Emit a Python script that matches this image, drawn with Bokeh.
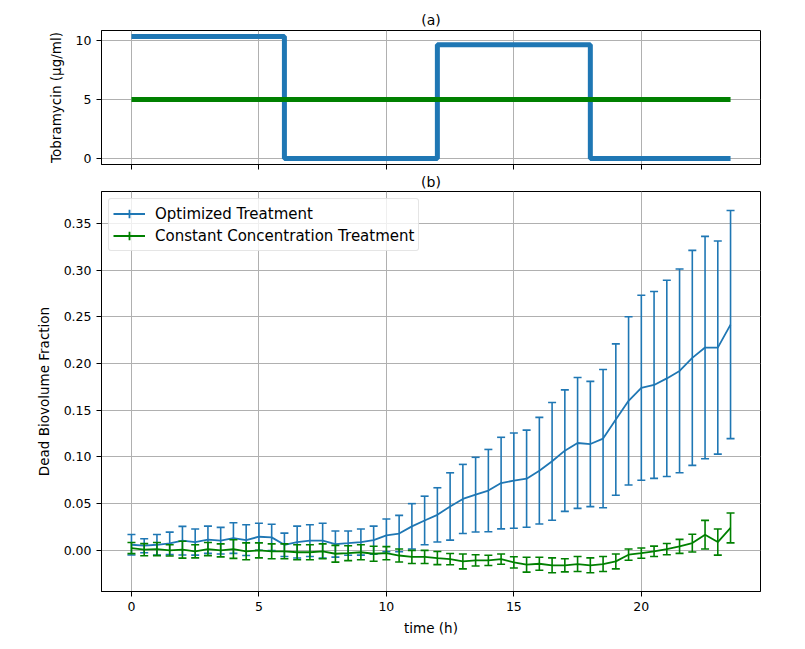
from bokeh.plotting import figure
from bokeh.models import (Range1d, FixedTicker, PrintfTickFormatter, Legend,
                          LegendItem, ColumnDataSource, CustomJSTickFormatter)
from bokeh.layouts import column
from bokeh.embed import file_html
from bokeh.resources import INLINE

# ---------------- data ----------------
# panel (a): dosing schedule
dose_times = [0, 6, 12, 18, 23.5]
optimized_dose = [10.35, 0, 9.65, 0, 0]
constant_dose = [5, 5, 5, 5, 5]

# panel (b): dead biovolume fraction
time_h = [0.0, 0.5, 1.0, 1.5, 2.0, 2.5, 3.0, 3.5, 4.0, 4.5, 5.0, 5.5,
          6.0, 6.5, 7.0, 7.5, 8.0, 8.5, 9.0, 9.5, 10.0, 10.5, 11.0, 11.5,
          12.0, 12.5, 13.0, 13.5, 14.0, 14.5, 15.0, 15.5, 16.0, 16.5, 17.0, 17.5,
          18.0, 18.5, 19.0, 19.5, 20.0, 20.5, 21.0, 21.5, 22.0, 22.5, 23.0, 23.5]

optimized_mean = [0.006, 0.005, 0.006, 0.0075, 0.0104, 0.0089, 0.0114, 0.0104,
                  0.0132, 0.011, 0.0146, 0.0139, 0.006, 0.0089, 0.0104, 0.0104,
                  0.0068, 0.0078, 0.0089, 0.011, 0.016, 0.018, 0.0257, 0.032,
                  0.038, 0.047, 0.055, 0.0596, 0.064, 0.072, 0.0746, 0.0767,
                  0.0853, 0.0953, 0.1067, 0.1149, 0.1138, 0.1196, 0.140, 0.160,
                  0.174, 0.177, 0.184, 0.192, 0.206, 0.217, 0.217, 0.2416]
optimized_err = [0.011, 0.0075, 0.011, 0.012, 0.0153, 0.014, 0.0146, 0.0142,
                 0.0164, 0.0165, 0.0144, 0.014, 0.0125, 0.017, 0.017, 0.0186,
                 0.014, 0.013, 0.014, 0.015, 0.0175, 0.0195, 0.0243, 0.026,
                 0.029, 0.036, 0.037, 0.040, 0.044, 0.049, 0.051, 0.052,
                 0.057, 0.063, 0.065, 0.070, 0.067, 0.074, 0.081, 0.090,
                 0.099, 0.100, 0.105, 0.109, 0.115, 0.119, 0.114, 0.122]

constant_mean = [0.0025, 0.0007, 0.0014, 0.0, 0.0007, -0.001, 0.0014, 0.0,
                 0.0014, -0.001, 0.0, -0.001, -0.001, -0.002, -0.002, -0.001,
                 -0.0036, -0.003, -0.002, -0.0036, -0.003, -0.0055, -0.007, -0.007,
                 -0.0082, -0.0093, -0.0118, -0.0107, -0.0107, -0.0093, -0.0128, -0.0153,
                 -0.0143, -0.016, -0.016, -0.0146, -0.016, -0.0146, -0.0118, -0.0046,
                 -0.003, -0.001, 0.0014, 0.0043, 0.0078, 0.0168, 0.0089, 0.024]
constant_err = [0.006, 0.0065, 0.007, 0.006, 0.009, 0.007, 0.007, 0.007,
                0.010, 0.009, 0.008, 0.008, 0.008, 0.008, 0.008, 0.008,
                0.009, 0.008, 0.008, 0.008, 0.007, 0.007, 0.007, 0.007,
                0.007, 0.006, 0.008, 0.006, 0.0055, 0.0055, 0.006, 0.008,
                0.007, 0.008, 0.007, 0.008, 0.008, 0.008, 0.008, 0.006,
                0.0055, 0.0055, 0.006, 0.0075, 0.0095, 0.0153, 0.014, 0.016]

x_ticks = [0, 5, 10, 15, 20]
dose_ticks = [0, 5, 10]
frac_ticks = [0.0, 0.05, 0.10, 0.15, 0.20, 0.25, 0.30, 0.35]

BLUE = "#1f77b4"
GREEN = "#008000"
FONT = "DejaVu Sans"
GRID = "#b0b0b0"


def style(p, title_standoff):
    p.background_fill_color = "white"
    p.border_fill_color = "white"
    p.outline_line_color = "black"
    p.outline_line_width = 1
    p.outline_line_alpha = 1
    p.title.text_font = FONT
    p.title.text_font_size = "14px"
    p.title.text_font_style = "normal"
    p.title.text_color = "black"
    p.title.align = "center"
    p.title.standoff = title_standoff
    for ax in (p.xaxis[0], p.yaxis[0]):
        ax.axis_line_color = "black"
        ax.major_tick_line_color = "black"
        ax.major_tick_out = 5
        ax.major_tick_in = 0
        ax.minor_tick_line_color = None
        ax.major_label_text_font = FONT
        ax.major_label_text_font_size = "12.5px"
        ax.major_label_text_color = "black"
        ax.major_label_standoff = 5
        ax.axis_label_text_font = FONT
        ax.axis_label_text_font_size = "13.5px"
        ax.axis_label_text_font_style = "normal"
        ax.axis_label_text_color = "black"
    p.yaxis[0].axis_label_standoff = 9
    p.xaxis[0].axis_label_standoff = 6
    for g in (p.xgrid[0], p.ygrid[0]):
        g.grid_line_color = GRID
        g.grid_line_width = 1


# ---------------- panel (a) ----------------
pa = figure(width=797, height=170, output_backend="svg", toolbar_location=None,
            x_range=Range1d(-1.175, 24.675), y_range=Range1d(-0.52, 10.87),
            title="(a)", min_border_left=101, min_border_right=37,
            min_border_top=30, min_border_bottom=6)
style(pa, 6)
pa.xaxis.ticker = FixedTicker(ticks=x_ticks)
pa.xaxis.formatter = CustomJSTickFormatter(code="return ''")
pa.xaxis.major_label_standoff = 0
pa.yaxis.ticker = FixedTicker(ticks=dose_ticks)
pa.yaxis.axis_label = "Tobramycin (µg/ml)"
pa.step(dose_times, optimized_dose, mode="after", line_color=BLUE, line_width=5)
pa.line(dose_times, constant_dose, line_color=GREEN, line_width=5)

# ---------------- panel (b) ----------------
pb = figure(width=797, height=471, output_backend="svg", toolbar_location=None,
            x_range=pa.x_range, y_range=Range1d(-0.044, 0.384),
            title="(b)", min_border_left=101, min_border_right=37,
            min_border_top=20, min_border_bottom=50)
style(pb, 3)
pb.xaxis.ticker = FixedTicker(ticks=x_ticks)
pb.xaxis.axis_label = "time (h)"
pb.yaxis.ticker = FixedTicker(ticks=frac_ticks)
pb.yaxis.formatter = PrintfTickFormatter(format="%.2f")
pb.yaxis.axis_label = "Dead Biovolume Fraction"

items = []
for mean, err, color, label in ((optimized_mean, optimized_err, BLUE, "Optimized Treatment"),
                                (constant_mean, constant_err, GREEN,
                                 "Constant Concentration Treatment")):
    lo = [m - e for m, e in zip(mean, err)]
    hi = [m + e for m, e in zip(mean, err)]
    src = ColumnDataSource(dict(t=time_h, m=mean, lo=lo, hi=hi))
    ln = pb.line("t", "m", source=src, line_color=color, line_width=1.8)
    pb.segment("t", "lo", "t", "hi", source=src, line_color=color, line_width=1.6)
    pb.scatter("t", "hi", source=src, marker="dash", size=8, line_color=color, line_width=1.6)
    pb.scatter("t", "lo", source=src, marker="dash", size=8, line_color=color, line_width=1.6)
    # zero-size cross: invisible on the plot, gives the legend its vertical error-bar stroke
    key = pb.scatter("t", "m", source=src, marker="cross", size=0,
                     line_color=color, line_width=1.8)
    items.append(LegendItem(label=label, renderers=[ln, key]))

legend = Legend(items=items, location="top_left")
legend.label_text_font = FONT
legend.label_text_font_size = "15px"
legend.label_text_color = "black"
legend.border_line_color = "#cccccc"
legend.border_line_width = 1
legend.border_radius = 3
legend.background_fill_color = "white"
legend.background_fill_alpha = 0.8
legend.margin = 7
legend.padding = 4
legend.spacing = 1
legend.glyph_width = 32
legend.glyph_height = 21
legend.label_height = 20
legend.label_standoff = 10
pb.add_layout(legend)

layout = column(pa, pb, spacing=0)
open("out.html", "w").write(file_html(layout, INLINE))
